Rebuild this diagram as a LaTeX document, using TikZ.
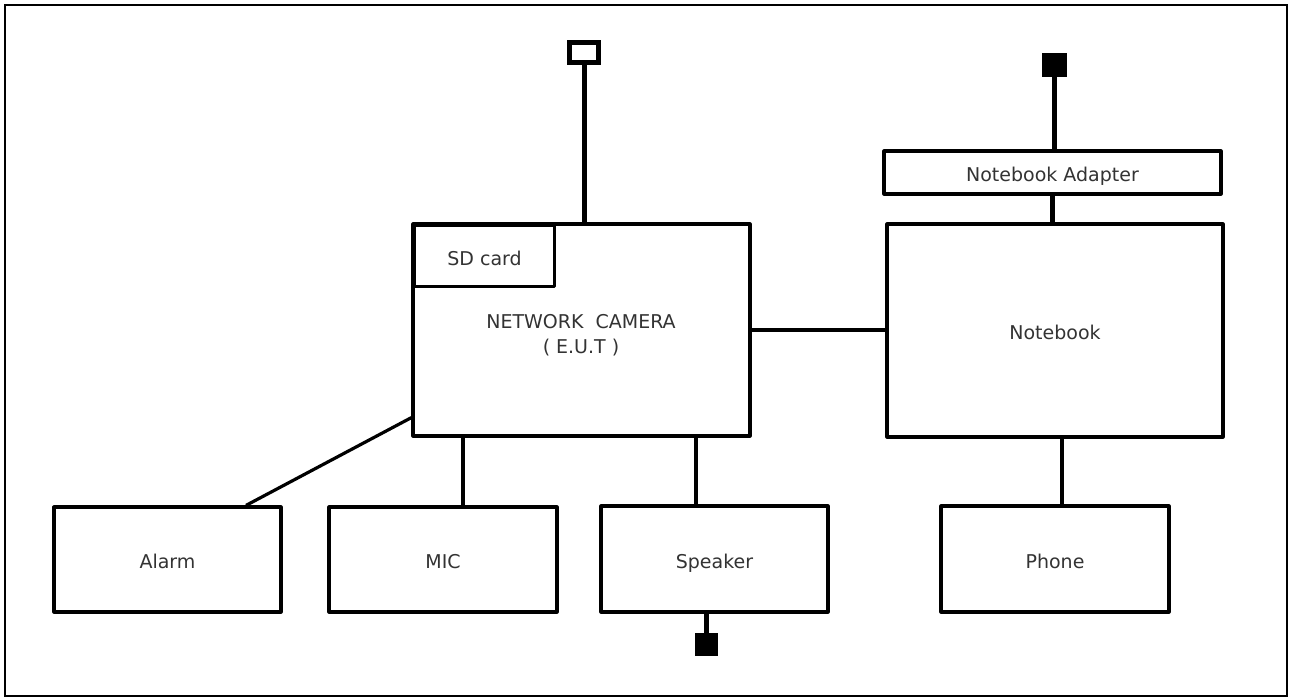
\documentclass[tikz,border=0pt]{standalone}
\usepackage{fontspec}
\setmainfont{DejaVu Sans}
\begin{document}
\begin{tikzpicture}[x=1pt,y=-1pt,
  box/.style={draw=black, line width=3.2pt, fill=white, inner sep=0pt, text=black!80,
    font=\fontsize{19}{24}\selectfont, text height=18pt, text depth=0pt, line join=round},
  link/.style={draw=black, line width=3.2pt},
  thick link/.style={draw=black, line width=5pt},
  plug/.style={draw=black, line width=4pt, fill=black, inner sep=0pt},
  lbl/.style={text=black!80, font=\fontsize{19}{25}\selectfont, align=center, inner sep=0pt}]
\useasboundingbox (0,0) rectangle (1290,699);
\draw[line width=2.5pt] (5,5) rectangle (1287,696);

% main units
\node[box, minimum width=337pt, minimum height=212pt] (cam) at (581.5,330) {};
\node[box, minimum width=140pt, minimum height=61pt, anchor=north west] (sd) at (413,224) {SD card};
\node[lbl] (camlbl) at (581,335) {NETWORK \ CAMERA\\( E.U.T )};
\node[box, minimum width=336pt, minimum height=213pt] (nb) at (1055,330.5) {Notebook};
\node[box, minimum width=337pt, minimum height=43pt] (adp) at (1052.5,172.5) {Notebook Adapter};

% peripherals
\node[box, minimum width=227pt, minimum height=105pt] (alarm) at (167.5,559.5) {Alarm};
\node[box, minimum width=228pt, minimum height=105pt] (mic) at (443,559.5) {MIC};
\node[box, minimum width=227pt, minimum height=106pt] (spk) at (714.5,559) {Speaker};
\node[box, minimum width=228pt, minimum height=106pt] (ph) at (1055,559) {Phone};

% plugs
\node[draw=black, line width=4.5pt, fill=white, inner sep=0pt, minimum width=29pt, minimum height=20pt] (ant) at (584,52.5) {};
\node[plug, minimum width=21pt, minimum height=20pt] (nbplug) at (1054.5,65) {};
\node[plug, minimum width=19pt, minimum height=19pt] (spkplug) at (706.5,644.5) {};

% connectors
\draw[thick link] (ant.south) -- (ant.south |- cam.north);
\draw[thick link] (nbplug.south) -- (nbplug.south |- adp.north);
\draw[thick link] (adp.south) -- (adp.south |- nb.north);
\draw[link] (cam.east) -- (cam.east -| nb.west);
\draw[link] ([yshift=20pt]cam.south west) -- ([xshift=78.5pt]alarm.north);
\draw[link] ([xshift=20pt]mic.north) -- ([xshift=20pt]mic.north |- cam.south);
\draw[link] ([xshift=-18.5pt]spk.north) -- ([xshift=-18.5pt]spk.north |- cam.south);
\draw[thick link] (spkplug.north) -- (spkplug.north |- spk.south);
\draw[link] ([xshift=7pt]ph.north) -- ([xshift=7pt]ph.north |- nb.south);
\end{tikzpicture}
\end{document}
